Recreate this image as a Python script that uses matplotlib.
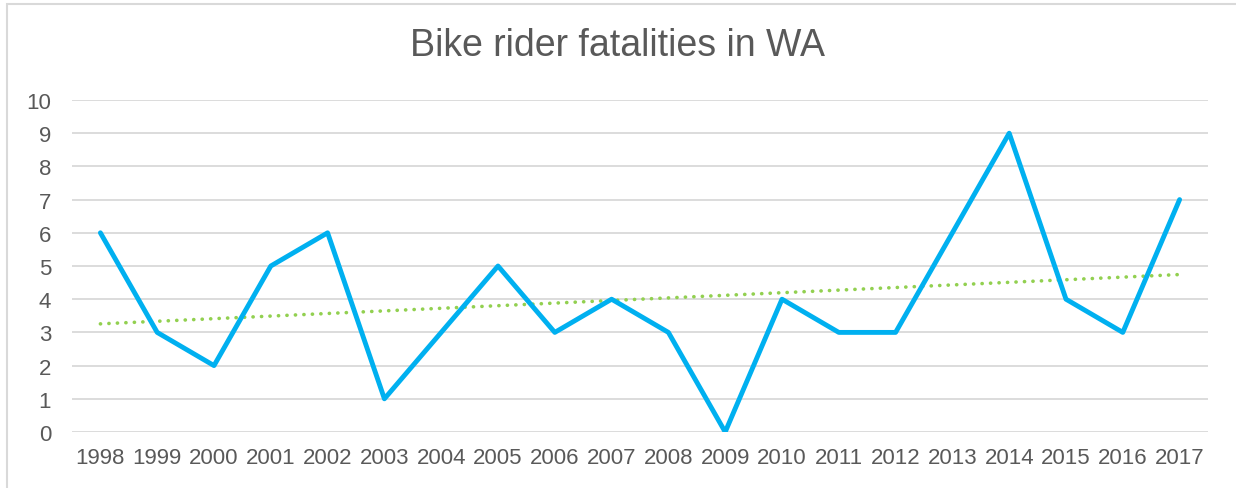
import numpy as np
import matplotlib.pyplot as plt
from matplotlib.patches import Rectangle

plt.rcParams['font.family'] = ['Liberation Sans', 'DejaVu Sans']

years = ['1998', '1999', '2000', '2001', '2002', '2003', '2004', '2005', '2006', '2007',
         '2008', '2009', '2010', '2011', '2012', '2013', '2014', '2015', '2016', '2017']
fatalities = [6, 3, 2, 5, 6, 1, 3, 5, 3, 4, 3, 0, 4, 3, 3, 6, 9, 4, 3, 7]

text_col = '#595959'
grid_col = '#d9d9d9'

fig = plt.figure(figsize=(12.36, 4.89), dpi=100)
ax = fig.add_axes([72 / 1236, 1 - 433 / 489, (1208 - 72) / 1236, (433 - 101) / 489])

x = np.arange(len(years))
ax.plot(x, fatalities, color='#00b0f0', linewidth=3.5, solid_joinstyle='round',
        solid_capstyle='round', zorder=3)

# linear trend line, like Excel's
slope, icpt = np.polyfit(x, fatalities, 1)
ax.plot(x, slope * x + icpt, color='#92d050', linewidth=2.6, linestyle=(0, (0.05, 2.3)),
        dash_capstyle='round', zorder=2)

ax.set_xlim(-0.5, len(years) - 0.5)
ax.set_ylim(0, 10)
ax.set_yticks(range(11))
ax.set_xticks(x)
ax.set_xticklabels(years)
ax.grid(axis='y', color=grid_col, linewidth=1.3)
ax.set_axisbelow(True)
for s in ax.spines.values():
    s.set_visible(False)
ax.tick_params(length=0, colors=text_col, labelsize=16)
ax.tick_params(axis='y', pad=15)
ax.tick_params(axis='x', pad=11)

fig.text(0.5, 1 - 46 / 489, 'Bike rider fatalities in WA', ha='center', va='center',
         fontsize=27, color=text_col)

# chart frame (left and top edges visible)
fig.patches.append(Rectangle((7 / 1236, -0.1), 1.2, 1 - 5 / 489 + 0.1,
                             transform=fig.transFigure, fill=False,
                             edgecolor=grid_col, linewidth=1.5))

fig.savefig('out.png', dpi=100)
